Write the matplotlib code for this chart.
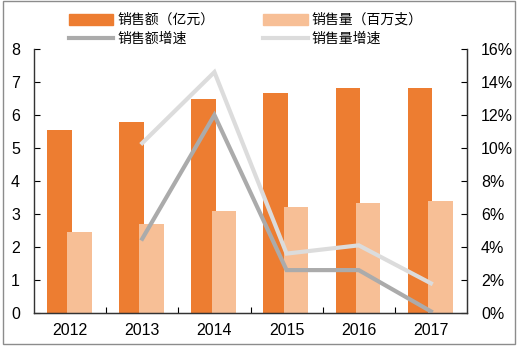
import numpy as np
import matplotlib
matplotlib.use("Agg")
import matplotlib.pyplot as plt
from matplotlib.patches import Patch, Rectangle
from matplotlib.lines import Line2D
from matplotlib.ticker import FuncFormatter

plt.rcParams['font.family'] = ['Liberation Sans', 'Noto Sans CJK SC', 'DejaVu Sans']

years = ['2012', '2013', '2014', '2015', '2016', '2017']
sales_amount = [5.55, 5.80, 6.48, 6.68, 6.83, 6.83]      # 亿元
sales_volume = [2.45, 2.71, 3.09, 3.21, 3.34, 3.40]      # 百万支
amount_growth = [np.nan, 4.5, 12.0, 2.6, 2.6, 0.1]       # %
volume_growth = [np.nan, 10.3, 14.6, 3.6, 4.1, 1.8]      # %

c_dark = '#ED7D31'
c_light = '#F7BF96'
c_gray = '#ABABAB'
c_lgray = '#DCDCDC'

fig = plt.figure(figsize=(5.19, 3.49), dpi=100)
ax = fig.add_axes([34 / 519, 1 - 313 / 349, (467 - 34) / 519, (313 - 49) / 349])
ax2 = ax.twinx()

x = np.arange(len(years))
w = 0.34
ax.bar(x - 0.15, sales_amount, w, color=c_dark, zorder=2)
ax.bar(x + 0.13, sales_volume, w, color=c_light, zorder=2)

ax2.plot(x, amount_growth, color=c_gray, lw=3, solid_joinstyle='miter')
ax2.plot(x, volume_growth, color=c_lgray, lw=3, solid_joinstyle='miter')

ax.set_xlim(-0.5, 5.5)
ax.set_ylim(0, 8)
ax2.set_ylim(0, 16)
ax.set_yticks(range(0, 9))
ax2.set_yticks(range(0, 17, 2))
ax2.yaxis.set_major_formatter(FuncFormatter(lambda v, p: f'{int(v)}%'))

ax.set_xticks(x)
ax.set_xticklabels(years)
ax.set_xticks(np.arange(0.5, 5, 1), minor=True)
ax.tick_params(axis='x', which='major', length=0, pad=7, labelsize=11.5)
ax.tick_params(axis='x', which='minor', direction='in', length=4, width=0.8)
ax.tick_params(axis='y', direction='in', length=4, width=0.8, pad=10, labelsize=11.5)
ax2.tick_params(axis='y', direction='in', length=4, width=0.8, pad=10, labelsize=11.5)

for a in (ax, ax2):
    a.spines['top'].set_visible(False)
    for s in ('left', 'right', 'bottom'):
        a.spines[s].set_linewidth(0.9)
        a.spines[s].set_color('#333333')
ax.spines['left'].set_color('#777777')

# legend fills column-wise: bars in row 1, lines in row 2
handles = [
    Patch(color=c_dark, label='销售额（亿元）'),
    Line2D([], [], color=c_gray, lw=3, label='销售额增速'),
    Patch(color=c_light, label='销售量（百万支）'),
    Line2D([], [], color=c_lgray, lw=3, label='销售量增速'),
]
fig.legend(handles=handles, ncol=2, loc='upper left', bbox_to_anchor=(62 / 519, 1 - 6 / 349),
           frameon=False, fontsize=10, handlelength=3.2, handleheight=0.85,
           handletextpad=0.3, columnspacing=3.5, labelspacing=0.35, borderpad=0)

fig.patches.append(Rectangle((3 / 519, 1 - 344 / 349), 512 / 519, 343 / 349,
                             transform=fig.transFigure, fill=False,
                             edgecolor='#8C8C8C', lw=1))

fig.savefig('out.png', dpi=100)
